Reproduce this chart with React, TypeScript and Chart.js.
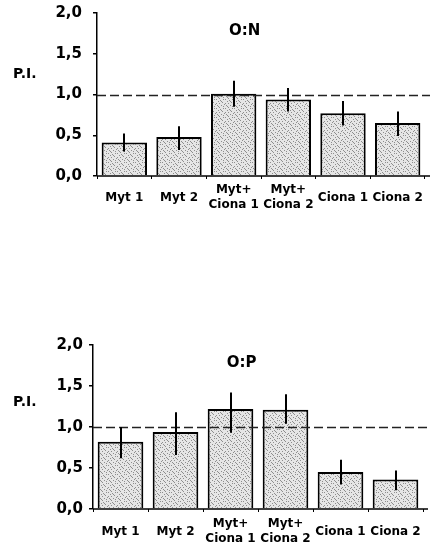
import React, { useEffect, useRef } from 'react';
import { Chart, registerables } from 'chart.js';

Chart.register(...registerables);

// ---- data ----
const categories: (string | string[])[] = [
  'Myt 1',
  'Myt 2',
  ['Myt+', 'Ciona 1'],
  ['Myt+', 'Ciona 2'],
  'Ciona 1',
  'Ciona 2',
];
const yTickLabels = ['0,0', '0,5', '1,0', '1,5', '2,0'];
const referenceValue = 1.0;

const onTitle = 'O:N';
const onValues = [0.41, 0.48, 1.01, 0.94, 0.77, 0.65];
const onErrLow = [0.3, 0.32, 0.85, 0.79, 0.62, 0.49];
const onErrHigh = [0.52, 0.61, 1.17, 1.08, 0.92, 0.79];

const opTitle = 'O:P';
const opValues = [0.82, 0.94, 1.22, 1.21, 0.45, 0.36];
const opErrLow = [0.62, 0.66, 0.93, 1.04, 0.3, 0.23];
const opErrHigh = [1.0, 1.18, 1.42, 1.4, 0.6, 0.47];

const yLabel = 'P.I.';

const FONT = '"DejaVu Sans", sans-serif';

function makePattern(): CanvasPattern | string {
  const c = document.createElement('canvas');
  c.width = 9;
  c.height = 9;
  const g = c.getContext('2d');
  if (!g) return '#d8d8d8';
  g.fillStyle = '#e6e6e6';
  g.fillRect(0, 0, 9, 9);
  g.fillStyle = '#8e8e8e';
  const dots = [
    [0, 0], [4, 1], [7, 0], [2, 2], [6, 3], [0, 4], [3, 4],
    [8, 5], [5, 6], [1, 6], [7, 7], [3, 8], [5, 2], [2, 7],
  ];
  dots.forEach(([dx, dy]) => g.fillRect(dx, dy, 1, 1));
  const p = g.createPattern(c, 'repeat');
  return p || '#d8d8d8';
}

const overlayPlugin = {
  id: 'overlay',
  afterDatasetsDraw(chart: any, _args: any, opts: any) {
    const { ctx, chartArea, scales } = chart;
    const x = scales.x;
    const y = scales.y;
    ctx.save();
    // reference dashed line
    const yr = Math.round(y.getPixelForValue(opts.refValue)) + 0.5;
    ctx.strokeStyle = '#222';
    ctx.lineWidth = 1.5;
    ctx.setLineDash([9, 4]);
    ctx.beginPath();
    ctx.moveTo(chartArea.left, yr);
    ctx.lineTo(chartArea.right + 5, yr);
    ctx.stroke();
    ctx.setLineDash([]);
    // x axis line
    const y0 = y.getPixelForValue(0);
    ctx.strokeStyle = '#000';
    ctx.lineWidth = 1.5;
    ctx.beginPath();
    ctx.moveTo(chartArea.left, y0);
    ctx.lineTo(chartArea.right + 5, y0);
    ctx.stroke();
    // error bars
    ctx.lineWidth = 2;
    (opts.low as number[]).forEach((lo: number, i: number) => {
      const hi = opts.high[i];
      const px = Math.round(x.getPixelForValue(i));
      ctx.beginPath();
      ctx.moveTo(px, y.getPixelForValue(hi));
      ctx.lineTo(px, y.getPixelForValue(lo));
      ctx.stroke();
    });
    // title
    ctx.fillStyle = '#000';
    ctx.font = `bold 15px ${FONT}`;
    ctx.textAlign = 'center';
    ctx.textBaseline = 'middle';
    ctx.fillText(
      opts.title,
      chartArea.left + chartArea.width * opts.titleFrac,
      y.getPixelForValue(opts.titleValue)
    );
    // P.I. label
    ctx.font = `bold 14px ${FONT}`;
    ctx.textAlign = 'left';
    ctx.fillText(opts.yLabel, opts.yLabelX, y.getPixelForValue(opts.yLabelValue));
    ctx.restore();
  },
};

interface PanelProps {
  title: string;
  values: number[];
  low: number[];
  high: number[];
  padTop: number;
  padRight: number;
  yWidth: number;
  xHeight: number;
  yTickPad: number;
  xTickPad: number;
  yLabelX: number;
  yLabelValue: number;
}

function Panel(p: PanelProps) {
  const ref = useRef<HTMLCanvasElement | null>(null);
  useEffect(() => {
    if (!ref.current) return;
    const pattern = makePattern();
    const chart = new Chart(ref.current, {
      type: 'bar',
      data: {
        labels: categories as any,
        datasets: [
          {
            data: p.values,
            backgroundColor: pattern as any,
            borderColor: '#000',
            borderWidth: 2,
            categoryPercentage: 1,
            barPercentage: 0.83,
          },
        ],
      },
      options: {
        responsive: false,
        animation: false,
        events: [],
        layout: { padding: { top: p.padTop, right: p.padRight, left: 0, bottom: 0 } },
        plugins: {
          legend: { display: false },
          tooltip: { enabled: false },
          title: { display: false },
          overlay: {
            refValue: referenceValue,
            low: p.low,
            high: p.high,
            title: p.title,
            titleFrac: 0.45,
            titleValue: 1.78,
            yLabel,
            yLabelX: p.yLabelX,
            yLabelValue: p.yLabelValue,
          },
        } as any,
        scales: {
          x: {
            offset: true,
            border: { display: false },
            grid: {
              display: true,
              offset: true,
              drawOnChartArea: false,
              drawTicks: true,
              tickLength: 3,
              color: '#000',
              lineWidth: 1,
            },
            ticks: {
              color: '#000',
              font: { family: FONT, weight: 'bold', size: 12, lineHeight: 1.25 },
              crossAlign: 'center',
              padding: p.xTickPad,
              maxRotation: 0,
              minRotation: 0,
              autoSkip: false,
            },
            afterFit: (s: any) => {
              s.height = p.xHeight;
              s.paddingLeft = 0;
              s.paddingRight = 0;
            },
          },
          y: {
            min: 0,
            max: 2,
            border: { display: true, color: '#000', width: 1.5 },
            grid: {
              display: true,
              drawOnChartArea: false,
              drawTicks: true,
              tickLength: 4,
              color: '#000',
              lineWidth: 1.5,
            },
            ticks: {
              stepSize: 0.5,
              color: '#000',
              padding: p.yTickPad,
              font: { family: FONT, weight: 'bold', size: 15 },
              callback: (_v: any, i: number) => yTickLabels[i],
            },
            afterFit: (s: any) => {
              s.width = p.yWidth;
              s.paddingTop = 0;
              s.paddingBottom = 0;
            },
          },
        },
      } as any,
      plugins: [overlayPlugin as any],
    });
    return () => chart.destroy();
  }, []);
  return <canvas ref={ref} width={431} height={215} />;
}

export default function App() {
  return (
    <div
      style={{
        position: 'fixed',
        left: 0,
        top: 0,
        width: 431,
        height: 545,
        background: '#fff',
        overflow: 'hidden',
      }}
    >
      <div style={{ position: 'absolute', left: 0, top: 0, width: 431, height: 215 }}>
        <Panel
          title={onTitle}
          values={onValues}
          low={onErrLow}
          high={onErrHigh}
          padTop={13}
          padRight={6}
          yWidth={97}
          xHeight={39}
          yTickPad={11}
          xTickPad={11}
          yLabelX={13}
          yLabelValue={1.25}
        />
      </div>
      <div style={{ position: 'absolute', left: 0, top: 330, width: 431, height: 215 }}>
        <Panel
          title={opTitle}
          values={opValues}
          low={opErrLow}
          high={opErrHigh}
          padTop={15}
          padRight={8}
          yWidth={93}
          xHeight={36}
          yTickPad={6}
          xTickPad={12}
          yLabelX={13}
          yLabelValue={1.3}
        />
      </div>
    </div>
  );
}
